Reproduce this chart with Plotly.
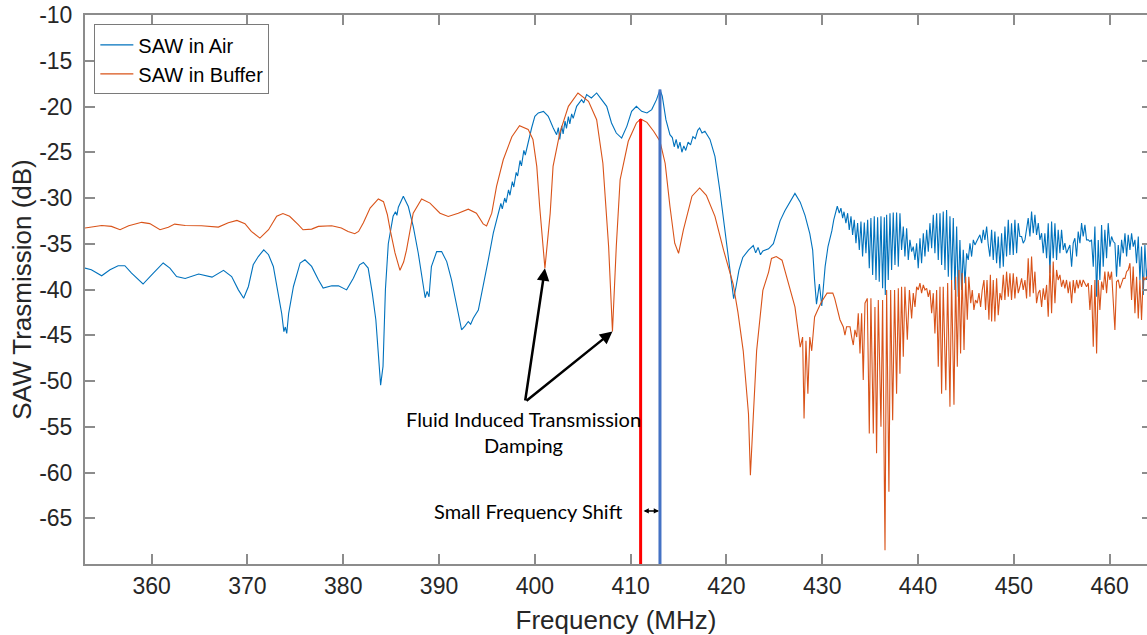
import plotly.graph_objects as go

# ---------------- data ----------------
air_points = [
    (353.04,-37.66),(353.7,-37.85),(354.78,-38.5),(355.65,-37.85),(356.5,-37.4),(357.2,-37.4),
    (357.9,-38.2),(358.8,-39.1),(359.1,-39.4),(360.0,-38.4),(361.2,-37.1),(361.9,-37.66),
    (362.6,-38.58),(363.5,-38.8),(364.9,-38.3),(366.3,-38.65),(367.5,-37.9),(368.35,-38.58),
    (369.05,-40.04),(369.6,-40.95),(370.1,-39.67),(370.6,-37.3),(371.13,-36.4),(371.7,-35.66),
    (372.2,-36.2),(372.7,-37.48),(373.15,-40.04),(373.57,-42.6),(373.8,-44.6),(373.95,-44.1),
    (374.1,-44.8),(374.3,-42.6),(374.8,-39.67),(375.5,-37.1),(376.0,-36.75),(376.7,-37.48),
    (377.4,-38.94),(377.9,-39.85),(378.8,-39.6),(379.5,-39.6),(380.35,-40.04),(381.05,-38.76),
    (381.7,-37.3),(382.1,-37.04),(382.6,-37.66),(383.03,-40.4),(383.4,-43.3),(383.66,-46.97),
    (383.9,-50.45),(384.15,-48.4),(384.4,-40.0),(384.7,-35.0),(385.2,-32.0),(385.45,-31.5),
    (385.6,-31.9),(385.75,-31.0),(386.27,-29.8),(386.79,-30.93),(387.31,-33.12),(387.83,-36.04),
    (388.35,-39.7),(388.55,-40.9),(388.75,-40.2),(388.95,-40.8),(389.2,-37.5),(389.75,-35.86),
    (390.27,-35.86),(390.8,-36.95),(391.3,-38.96),(391.83,-41.9),(392.35,-44.4),(392.7,-44.0),
    (393.05,-43.5),(393.3,-43.8),(393.57,-43.15),(394.1,-42.24),(394.6,-39.7),(395.14,-36.77),
    (395.66,-33.85),(396.18,-31.66),(396.45,-30.6),(396.6,-31.2),(396.85,-30.0),(397.0,-30.5),
    (397.25,-29.1),(397.4,-29.7),(397.65,-28.2),(397.8,-28.8),(398.05,-27.2),(398.2,-27.6),
    (398.45,-25.9),(398.6,-26.5),(398.85,-24.8),(399.0,-25.3),(399.3,-23.8),(399.66,-22.35),
    (400.0,-21.07),(400.36,-20.7),(400.9,-20.53),(401.4,-21.07),(401.92,-22.35),(402.27,-23.08),
    (402.45,-22.3),(402.6,-23.6),(402.8,-22.1),(402.95,-23.0),(403.15,-21.6),(403.3,-22.4),
    (403.5,-21.1),(403.65,-21.9),(403.84,-20.8),(404.0,-21.3),(404.36,-19.98),(404.88,-19.25),
    (405.1,-19.6),(405.4,-18.7),(405.9,-19.07),(406.45,-18.52),(406.97,-19.25),(407.5,-19.98),
    (408.0,-21.8),(408.5,-22.9),(409.06,-23.45),(409.6,-22.17),(410.1,-20.53),(410.6,-19.98),
    (411.15,-20.53),(411.7,-20.7),(412.2,-20.34),(412.7,-19.25),(413.06,-18.15),(413.3,-18.88),
    (413.68,-21.44),(414.1,-23.08),(414.35,-23.4),(414.55,-24.4),(414.75,-23.6),(414.95,-24.6),
    (415.15,-23.9),(415.35,-25.0),(415.55,-24.3),(415.75,-24.8),(416.0,-23.9),(416.25,-24.2),
    (416.5,-23.3),(416.75,-23.5),(417.0,-22.6),(417.2,-22.35),(417.45,-22.9),(417.75,-22.7),
    (418.28,-23.6),(418.8,-25.45),(419.3,-29.1),(419.85,-33.5),(420.36,-37.5),(420.75,-41.0),
    (421.0,-39.7),(421.3,-37.9),(421.7,-36.5),(422.3,-35.7),(422.8,-35.2),(423.05,-36.0),
    (423.3,-35.4),(423.55,-36.2),(423.8,-35.8),(424.4,-35.55),(424.9,-35.0),(425.6,-32.5),
    (426.1,-31.4),(426.6,-30.45),(427.15,-29.5),(427.7,-30.45),(428.2,-31.9),(428.7,-33.9),
    (429.0,-35.7),(429.2,-39.0),(429.4,-41.6),(429.7,-39.4),(429.95,-41.8),(430.3,-37.5),
    (430.6,-35.3),(431.0,-33.6),(431.2,-32.4),(431.57,-30.9),(431.78,-31.66),(431.95,-31.1),
    (432.13,-32.2),(432.27,-31.5),(432.47,-32.75),(432.65,-31.66),(432.82,-33.48),(433.0,-32.0),
    (433.17,-34.03),(433.34,-32.39),(433.52,-34.94),(433.69,-32.75),(433.87,-35.67),(434.04,-32.57),
    (434.21,-36.4),(434.39,-32.68),(434.56,-36.04),(434.74,-32.39),(434.91,-37.68),(435.08,-32.2),
    (435.26,-38.41),(435.43,-32.0),(435.61,-38.96),(435.78,-32.1),(435.95,-39.14),(436.13,-32.0),
    (436.3,-39.87),(436.48,-32.1),(436.58,-40.6),(436.72,-31.84),(436.89,-38.96),(437.07,-31.66),
    (437.24,-37.86),(437.41,-31.59),(437.59,-37.32),(437.76,-31.59),(437.94,-37.5),(438.11,-31.66),
    (438.28,-35.67),(438.46,-33.12),(438.63,-36.4),(438.81,-33.3),(438.98,-36.77),(439.15,-34.58),
    (439.33,-35.86),(439.5,-35.31),(439.68,-36.77),(439.85,-34.94),(440.02,-37.68),(440.2,-34.4),
    (440.37,-37.13),(440.55,-33.85),(440.72,-36.4),(440.9,-33.48),(441.07,-35.86),(441.24,-32.75),
    (441.42,-35.49),(441.59,-31.84),(441.76,-36.04),(441.94,-31.66),(442.11,-36.77),(442.29,-31.66),
    (442.46,-37.32),(442.63,-31.48),(442.81,-37.86),(442.98,-31.3),(443.16,-38.6),(443.33,-32.0),
    (443.5,-38.96),(443.68,-32.2),(443.85,-40.05),(444.03,-33.12),(444.2,-40.78),(444.37,-34.58),
    (444.55,-40.05),(444.72,-35.67),(444.9,-39.32),(445.07,-36.04),(445.24,-36.77),(445.42,-34.94),
    (445.59,-36.4),(445.77,-34.58),(445.94,-35.13),(446.11,-34.76),(446.29,-34.4),(446.46,-34.03),
    (446.64,-34.94),(446.81,-33.48),(446.98,-34.58),(447.16,-33.12),(447.33,-35.13),(447.5,-36.4),
    (447.68,-33.48),(447.85,-36.77),(448.02,-33.67),(448.2,-37.13),(448.37,-34.21),(448.55,-37.68),
    (448.72,-33.85),(448.9,-37.5),(449.07,-33.12),(449.24,-36.4),(449.42,-32.39),(449.59,-36.22),
    (449.76,-32.75),(449.94,-36.22),(450.11,-32.39),(450.29,-36.04),(450.46,-32.75),(450.63,-34.21),
    (450.81,-34.21),(450.98,-34.94),(451.16,-34.58),(451.33,-33.48),(451.5,-32.2),(451.68,-34.21),
    (451.85,-31.48),(452.03,-33.85),(452.2,-31.84),(452.37,-34.03),(452.55,-32.75),(452.72,-34.58),
    (452.9,-33.85),(453.07,-36.04),(453.24,-33.85),(453.42,-36.59),(453.59,-32.75),(453.77,-38.23),
    (453.94,-32.57),(454.11,-36.59),(454.29,-32.75),(454.46,-36.77),(454.63,-33.48),(454.81,-36.04),
    (454.98,-33.48),(455.16,-35.67),(455.33,-34.94),(455.5,-36.04),(455.68,-35.49),(455.85,-35.13),
    (456.03,-37.5),(456.2,-34.94),(456.37,-34.4),(456.55,-36.4),(456.72,-33.67),(456.9,-34.94),
    (457.07,-32.75),(457.24,-34.21),(457.42,-32.94),(457.59,-34.58),(457.77,-34.58),(457.94,-34.76),
    (458.11,-34.58),(458.29,-37.5),(458.46,-33.12),(458.64,-40.78),(458.81,-34.58),(458.98,-38.96),
    (459.16,-32.94),(459.33,-37.5),(459.5,-33.48),(459.68,-36.59),(459.85,-32.75),(460.03,-35.31),
    (460.2,-34.21),(460.38,-34.76),(460.55,-34.94),(460.72,-38.6),(460.9,-35.13),(461.07,-37.5),
    (461.25,-34.58),(461.42,-36.04),(461.6,-33.85),(461.77,-36.4),(461.94,-34.03),(462.12,-35.67),
    (462.29,-33.85),(462.46,-35.31),(462.64,-34.58),(462.81,-37.13),(462.99,-34.21),(463.16,-38.96),
    (463.33,-35.31),(463.51,-40.6),(463.68,-35.13),(463.86,-38.96),(464.1,-35.6),
]

buffer_points = [
    (353.04,-33.28),(354.78,-33.0),(355.8,-33.1),(356.7,-33.47),(357.6,-33.03),(358.96,-32.66),
    (359.8,-32.8),(360.87,-33.47),(361.74,-33.2),(362.4,-32.85),(363.5,-33.0),(365.2,-33.03),
    (366.96,-33.18),(368.0,-32.7),(368.9,-32.45),(369.74,-32.8),(370.4,-33.65),(371.3,-34.38),
    (372.2,-33.47),(373.05,-32.0),(373.7,-31.7),(374.4,-32.0),(375.3,-32.9),(375.8,-33.47),
    (376.7,-33.4),(377.4,-33.1),(378.8,-33.03),(379.8,-33.28),(380.5,-33.65),(381.2,-33.9),
    (381.6,-33.65),(382.1,-32.7),(382.8,-31.1),(383.66,-30.1),(384.2,-30.4),(384.6,-31.8),
    (384.9,-33.5),(385.4,-36.0),(385.92,-37.9),(386.3,-37.0),(386.6,-35.7),(387.3,-31.66),
    (388.18,-30.1),(389.05,-30.56),(390.1,-31.66),(390.96,-32.02),(392.0,-31.66),(393.05,-31.22),
    (393.9,-31.66),(394.6,-32.83),(394.96,-33.05),(395.5,-31.66),(396.0,-28.74),(396.7,-25.82),
    (397.6,-23.3),(398.4,-22.1),(399.3,-22.5),(399.8,-23.6),(400.2,-26.55),(400.5,-30.9),
    (401.05,-37.68),(401.6,-31.66),(401.9,-26.55),(402.6,-22.9),(403.5,-19.98),(404.5,-18.52),
    (405.6,-19.43),(406.45,-21.44),(407.1,-26.2),(407.7,-35.3),(408.1,-44.6),(408.5,-35.3),
    (408.9,-28.0),(409.75,-23.8),(410.6,-21.8),(411.04,-21.37),(411.7,-21.73),(412.4,-22.7),
    (413.06,-23.8),(413.6,-26.2),(414.1,-30.9),(414.6,-34.94),(415.0,-36.04),(415.5,-33.5),
    (416.4,-29.8),(417.2,-28.9),(417.9,-29.7),(418.8,-32.0),(419.7,-35.7),(420.7,-39.4),
    (421.2,-42.5),(421.75,-46.7),(422.3,-53.6),(422.5,-60.3),(422.8,-53.9),(423.15,-46.7),
    (423.8,-40.1),(424.4,-38.1),(424.7,-36.6),(425.2,-36.4),(425.8,-36.8),(426.45,-39.4),
    (427.15,-41.9),(427.7,-46.3),(427.95,-45.2),(428.1,-54.1),(428.3,-45.6),(428.5,-51.4),
    (428.7,-45.2),(428.9,-46.7),(429.2,-43.0),(429.5,-42.3),(429.9,-41.4),(430.5,-40.4),
    (431.1,-40.4),(431.3,-40.97),(431.57,-42.06),(431.85,-43.3),(432.2,-44.1),(432.37,-44.98),
    (432.54,-44.07),(432.9,-44.07),(433.07,-45.2),(433.24,-46.07),(433.41,-44.4),(433.6,-45.2),
    (433.76,-42.6),(433.94,-47.0),(434.11,-42.6),(434.28,-49.9),(434.46,-41.5),(434.7,-40.97),
    (434.91,-55.75),(435.08,-40.97),(435.33,-55.75),(435.5,-41.9),(435.67,-57.9),(435.85,-41.15),
    (436.13,-55.0),(436.3,-41.15),(436.55,-68.5),(436.72,-40.05),(436.96,-62.1),(437.14,-40.05),
    (437.35,-54.3),(437.55,-40.05),(437.76,-51.4),(437.94,-39.87),(438.11,-49.2),(438.28,-39.7),
    (438.46,-47.35),(438.63,-39.7),(438.88,-45.5),(439.1,-40.05),(439.33,-43.16),(439.5,-40.4),
    (439.68,-41.9),(439.85,-39.7),(440.02,-40.05),(440.2,-39.3),(440.37,-40.4),(440.55,-39.5),
    (440.72,-40.05),(440.9,-39.87),(441.07,-40.8),(441.24,-40.05),(441.42,-42.6),(441.59,-40.4),
    (441.76,-44.8),(441.94,-40.05),(442.11,-48.45),(442.29,-39.7),(442.46,-51.4),(442.63,-39.7),
    (442.9,-51.0),(443.09,-39.3),(443.33,-52.8),(443.5,-38.96),(443.75,-52.6),(443.92,-38.6),
    (444.1,-48.45),(444.27,-37.86),(444.44,-47.0),(444.6,-38.2),(444.8,-46.6),(444.97,-38.6),
    (445.14,-43.3),(445.3,-38.6),(445.5,-41.5),(445.66,-40.05),(445.83,-42.24),(446.0,-41.15),
    (446.18,-41.5),(446.36,-40.4),(446.53,-41.9),(446.7,-40.05),(446.88,-38.96),(447.05,-42.24),
    (447.2,-38.96),(447.4,-43.3),(447.55,-38.4),(447.68,-43.5),(447.85,-38.96),(448.02,-43.5),
    (448.2,-38.78),(448.37,-42.8),(448.55,-40.4),(448.72,-41.15),(448.9,-38.4),(449.07,-41.15),
    (449.24,-38.05),(449.42,-40.8),(449.59,-38.23),(449.76,-41.15),(449.94,-38.23),(450.11,-40.97),
    (450.29,-38.6),(450.46,-40.4),(450.63,-39.7),(450.81,-38.78),(450.98,-40.05),(451.16,-38.96),
    (451.33,-40.97),(451.5,-36.6),(451.68,-40.8),(451.85,-36.4),(452.03,-40.4),(452.2,-38.05),
    (452.37,-41.5),(452.55,-40.4),(452.72,-40.05),(452.9,-41.9),(453.07,-39.87),(453.24,-41.15),
    (453.42,-39.5),(453.59,-42.97),(453.77,-37.3),(453.94,-42.6),(454.11,-36.95),(454.29,-41.5),
    (454.46,-37.86),(454.63,-38.96),(454.81,-38.4),(454.98,-39.7),(455.16,-38.96),(455.33,-39.87),
    (455.5,-38.96),(455.68,-40.4),(455.85,-39.14),(456.03,-41.5),(456.2,-38.96),(456.37,-40.4),
    (456.55,-38.96),(456.72,-39.87),(456.9,-38.96),(457.07,-39.7),(457.24,-38.96),(457.42,-39.3),
    (457.59,-39.7),(457.77,-39.3),(457.94,-42.24),(458.11,-39.5),(458.29,-46.26),(458.46,-38.96),
    (458.64,-46.99),(458.81,-38.96),(458.98,-42.24),(459.16,-39.14),(459.33,-40.05),(459.5,-38.05),
    (459.68,-40.4),(459.85,-38.05),(460.03,-38.96),(460.2,-38.05),(460.38,-40.8),(460.55,-44.43),
    (460.72,-39.14),(460.9,-38.96),(461.07,-39.87),(461.25,-39.3),(461.42,-38.78),(461.6,-38.78),
    (461.77,-38.05),(461.94,-37.86),(462.12,-37.13),(462.29,-41.15),(462.46,-37.5),(462.64,-42.6),
    (462.81,-38.6),(462.99,-43.16),(463.16,-38.96),(463.33,-43.34),(463.51,-38.6),(463.68,-38.96),
    (463.86,-38.6),(464.1,-39.2),
]

air_freq = [p[0] for p in air_points]
air_db = [p[1] for p in air_points]
buffer_freq = [p[0] for p in buffer_points]
buffer_db = [p[1] for p in buffer_points]

x_ticks = [360, 370, 380, 390, 400, 410, 420, 430, 440, 450, 460]
x_ticktext = [str(v) for v in x_ticks]
y_ticks = [-65, -60, -55, -50, -45, -40, -35, -30, -25, -20, -15, -10]
y_ticktext = ["-65", "-60", "-55", "-50", "-45", "-40", "-35", "-30", "-25", "-20", "-15", "-10"]
x_range = [353.04, 463.9]
y_range = [-70, -10]

series_names = ["SAW in Air", "SAW in Buffer"]
air_color = "#0072BD"
buffer_color = "#D95319"


def extreme(freqs, vals, lo, hi, fn):
    cand = [(v, f) for f, v in zip(freqs, vals) if lo <= f <= hi]
    v, f = fn(cand)
    return f, v

# damping dips (arrow tips) and resonance peaks (vertical markers)
dip1 = extreme(buffer_freq, buffer_db, 399.5, 402.5, min)
dip2 = extreme(buffer_freq, buffer_db, 406.5, 409.5, min)
peak_buf = extreme(buffer_freq, buffer_db, 409.0, 413.0, max)
peak_air = extreme(air_freq, air_db, 412.0, 414.0, max)

AXIS_GRAY = "#8c8c8c"
TXT = "#262626"

fig = go.Figure()
fig.add_trace(go.Scatter(x=air_freq, y=air_db, mode="lines", name=series_names[0],
                         line=dict(color=air_color, width=1.1)))
fig.add_trace(go.Scatter(x=buffer_freq, y=buffer_db, mode="lines", name=series_names[1],
                         line=dict(color=buffer_color, width=1.1)))
# helper trace so the right-hand tick axis is drawn
fig.add_trace(go.Scatter(x=[], y=[], yaxis="y2", showlegend=False, hoverinfo="skip"))

# resonance marker lines
fig.add_shape(type="line", xref="x", yref="y", x0=peak_buf[0], x1=peak_buf[0],
              y0=y_range[0], y1=peak_buf[1], line=dict(color="#FF0000", width=3))
fig.add_shape(type="line", xref="x", yref="y", x0=peak_air[0], x1=peak_air[0],
              y0=y_range[0], y1=peak_air[1], line=dict(color="#4472C4", width=3))

tail = (398.97, -52.3)
for tip in (dip1, dip2):
    fig.add_annotation(x=tip[0], y=tip[1], ax=tail[0], ay=tail[1], xref="x", yref="y",
                       axref="x", ayref="y", text="", showarrow=True, arrowhead=2,
                       arrowsize=1.0, arrowwidth=2.5, arrowcolor="black", standoff=0)

fig.add_annotation(x=398.8, y=-52.6, xref="x", yref="y", yanchor="top", xanchor="center",
                   text="Fluid Induced Transmission<br>Damping", showarrow=False, align="center",
                   font=dict(family="Lato", size=20, color="black"))

shift_y = -64.2
fig.add_annotation(x=peak_air[0] - 0.1, y=shift_y, ax=peak_buf[0] + 0.15, ay=shift_y,
                   xref="x", yref="y", axref="x", ayref="y", text="", showarrow=True,
                   arrowhead=2, arrowside="end+start", arrowsize=0.7, arrowwidth=1.5,
                   arrowcolor="black", standoff=0, startstandoff=0)
fig.add_annotation(x=409.4, y=shift_y, xref="x", yref="y", xanchor="right", yanchor="middle",
                   text="Small Frequency Shift", showarrow=False,
                   font=dict(family="Lato", size=20, color="black"))

fig.update_layout(
    width=1147, height=635,
    margin=dict(l=85, r=0, t=15, b=71, autoexpand=False),
    paper_bgcolor="white", plot_bgcolor="white",
    font=dict(family="Liberation Sans, Arial, sans-serif", color=TXT),
    showlegend=True,
    legend=dict(x=0.0088, y=0.983, xanchor="left", yanchor="top", bgcolor="white",
                bordercolor="#7a7a7a", borderwidth=1, font=dict(size=20, color="black"),
                itemwidth=33, tracegroupgap=0),
    xaxis=dict(range=x_range, tickvals=x_ticks, ticktext=x_ticktext, ticks="inside",
               ticklen=10, tickwidth=1.5, automargin=False,
               tickcolor=AXIS_GRAY, showline=True, linecolor=AXIS_GRAY, linewidth=2,
               mirror="ticks", showgrid=False, zeroline=False,
               tickfont=dict(size=23, color=TXT), ticklabelstandoff=0,
               title=dict(text="Frequency (MHz)", font=dict(size=26, color=TXT), standoff=17)),
    yaxis=dict(range=y_range, tickvals=y_ticks, ticktext=y_ticktext, ticks="inside",
               ticklen=10, tickwidth=1.5, automargin=False,
               tickcolor=AXIS_GRAY, showline=True, linecolor=AXIS_GRAY, linewidth=2,
               mirror=False, showgrid=False, zeroline=False,
               tickfont=dict(size=23, color=TXT), ticklabelstandoff=6,
               title=dict(text="SAW Trasmission (dB)", font=dict(size=26, color=TXT), standoff=0)),
    yaxis2=dict(range=y_range, tickvals=y_ticks + [-70], overlaying="y", side="right",
                ticks="inside", ticklen=5, tickwidth=1.5, tickcolor=AXIS_GRAY, automargin=False,
                showticklabels=False, showline=False, showgrid=False, zeroline=False),
)

fig.write_html("out.html", config={"displayModeBar": False},
               post_script="document.body.style.margin='0';document.body.style.overflow='hidden';")
